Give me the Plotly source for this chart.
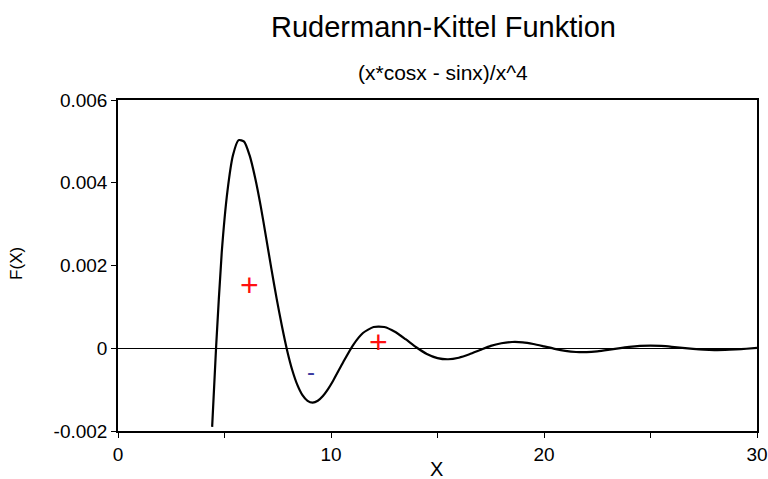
import plotly.graph_objects as go

# Values (curve of F(X) = (x*cosx - sinx)/x^4)
x_vals = [4.42, 4.61, 4.87, 5.14, 5.40, 5.66, 5.92, 6.18, 6.44, 6.70, 6.95, 7.20, 7.45,
          7.70, 7.94, 8.18, 8.42, 8.66, 8.90, 9.14, 9.38, 9.62, 9.86, 10.1, 10.57, 11.03,
          11.5, 12.0, 12.5, 13.0, 13.5, 14.0, 14.5, 15.0, 15.5, 16.0, 16.5, 17.0, 17.5,
          18.0, 18.5, 19.0, 19.5, 20.0, 20.5, 21.0, 21.5, 22.0, 22.5, 23.0, 23.5,
          24.0, 24.5, 25.0, 25.5, 26.0, 26.5, 27.0, 27.5, 28.0, 28.5, 29.0, 29.5, 30.0]
f_vals = [-0.00190, 0.0000706, 0.002314, 0.003804, 0.004670, 0.005030, 0.004995,
          0.004661, 0.004116, 0.003436, 0.002687, 0.001924, 0.001192, 0.000525,
          -0.0000527, -0.000526, -0.000886, -0.001133, -0.001272, -0.001313,
          -0.001268, -0.001154, -0.000987, -0.000785, -0.000338, 0.0000716,
          0.000368, 0.000514, 0.000513, 0.000398, 0.000218, 0.0000240, -0.000138,
          -0.000238, -0.000266, -0.000229, -0.000147, -0.0000445, 0.0000566,
          0.000120, 0.000151, 0.000143, 0.000103, 0.0000453, -0.0000149,
          -0.0000634, -0.0000909, -0.0000939, -0.0000748, -0.0000408, -0.0000015,
          0.0000334, 0.0000565, 0.0000638, 0.0000554, 0.0000351, 0.0000089,
          -0.0000166, -0.0000356, -0.0000443, -0.0000418, -0.0000297, -0.0000119,
          0.0000069]

x_tick_vals = [0, 5, 10, 15, 20, 25, 30]
x_tick_text = ["0", "", "10", "", "20", "", "30"]
y_tick_vals = [-0.002, 0, 0.002, 0.004, 0.006]
y_tick_text = ["-0.002", "0", "0.002", "0.004", "0.006"]

# sign labels (text, x, y, colour)
sign_text = ["+", "-", "+"]
sign_x = [6.15, 9.05, 12.25]
sign_y = [0.00152, -0.00056, 0.000145]
sign_color = ["#ff1010", "#3a3aa0", "#ff1010"]

FONT = "Liberation Sans, Arial, Helvetica, sans-serif"

fig = go.Figure()
fig.add_trace(go.Scatter(
    x=x_vals, y=f_vals, mode="lines",
    line=dict(color="black", width=2.2, shape="spline", smoothing=0.6),
    showlegend=False, hoverinfo="skip"))

for t, sx, sy, c in zip(sign_text, sign_x, sign_y, sign_color):
    fig.add_annotation(x=sx, y=sy, xref="x", yref="y", text=t, showarrow=False,
                       font=dict(family=FONT, size=32 if t == "+" else 24, color=c))

fig.add_annotation(x=0.51, y=1.222, xref="paper", yref="paper",
                   text="Rudermann-Kittel Funktion", showarrow=False,
                   xanchor="center", yanchor="middle",
                   font=dict(family=FONT, size=29, color="black"))
fig.add_annotation(x=0.508, y=1.082, xref="paper", yref="paper",
                   text="(x*cosx - sinx)/x^4", showarrow=False,
                   xanchor="center", yanchor="middle",
                   font=dict(family=FONT, size=21, color="black"))
fig.add_annotation(x=0.498, y=-0.115, xref="paper", yref="paper", text="X",
                   showarrow=False, xanchor="center", yanchor="middle",
                   font=dict(family=FONT, size=20, color="black"))
fig.add_annotation(x=-0.158, y=0.505, xref="paper", yref="paper", text="F(X)",
                   showarrow=False, textangle=-90, xanchor="center", yanchor="middle",
                   font=dict(family=FONT, size=17, color="black"))

fig.update_xaxes(range=[0, 30], tickvals=x_tick_vals, ticktext=x_tick_text,
                 ticks="outside", ticklen=5, tickcolor="black", tickwidth=1,
                 showline=True, linecolor="black", linewidth=1.5, mirror=True,
                 showgrid=False, zeroline=False, automargin=False,
                 tickfont=dict(family=FONT, size=19, color="black"))
fig.update_yaxes(range=[-0.002, 0.006], tickvals=y_tick_vals, ticktext=y_tick_text,
                 ticks="outside", ticklen=5, tickcolor="black", tickwidth=1,
                 showline=True, linecolor="black", linewidth=1.5, mirror=True,
                 showgrid=False, zeroline=True, zerolinecolor="black", zerolinewidth=1,
                 automargin=False,
                 tickfont=dict(family=FONT, size=19, color="black"))

fig.update_layout(width=768, height=479, autosize=False,
                  margin=dict(l=118, r=11, t=100, b=48),
                  plot_bgcolor="white", paper_bgcolor="white")

fig.write_html("out.html")
